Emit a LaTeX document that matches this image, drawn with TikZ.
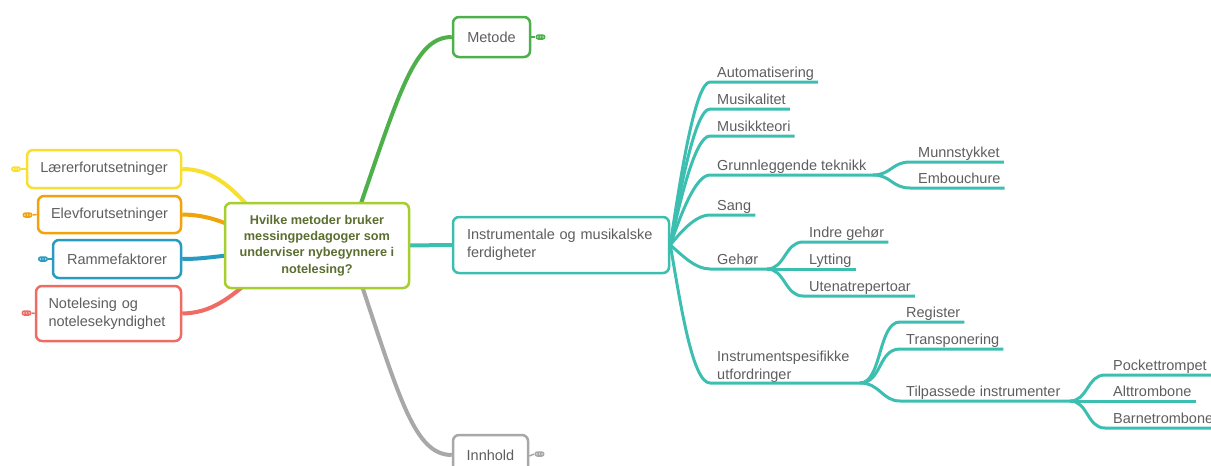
\documentclass[tikz,border=0pt]{standalone}
\usepackage{fontspec}
\setmainfont{Liberation Sans}
\usetikzlibrary{calc,backgrounds}
\definecolor{cyel}{HTML}{F8E031}
\definecolor{cora}{HTML}{F0A30A}
\definecolor{cblu}{HTML}{2A9BC0}
\definecolor{cred}{HTML}{F06B63}
\definecolor{cgrn}{HTML}{4DB04A}
\definecolor{cgry}{HTML}{A8A8A8}
\definecolor{ctea}{HTML}{3CBFB1}
\definecolor{clim}{HTML}{A6CE2E}
\definecolor{colv}{HTML}{5A6E2F}
\definecolor{ctxt}{HTML}{5E5E5E}
\newcommand\lblfont{\fontsize{14.5}{18}\selectfont}
\begin{document}
\begin{tikzpicture}[x=1pt,y=-1pt,
  box/.style={draw=#1, rounded corners=6pt, line width=2.5pt, fill=white, font=\lblfont, text=ctxt, inner sep=0pt},
  lbl/.style={anchor=base west, inner sep=0pt, font=\lblfont, text=ctxt},
  conn/.style={draw=#1, line width=4pt},
  br/.style={draw=ctea, line width=3pt},
  pill/.style={fill=#1, rounded corners=2.7pt, minimum width=10pt, minimum height=5.5pt, inner sep=0pt,
    path picture={\fill[white] (path picture bounding box.center) circle (0.7pt)
      ([xshift=-2.6pt]path picture bounding box.center) circle (0.7pt)
      ([xshift=2.6pt]path picture bounding box.center) circle (0.7pt);}},
  tick/.style={draw=#1, line width=1.5pt}
]
\useasboundingbox (0,0) rectangle (1211,466);
\clip (0,0) rectangle (1211,466);

% root
\node[box=clim, minimum width=184pt, minimum height=85pt, align=center, text=colv,
  font=\fontsize{12.7}{16.3}\selectfont\bfseries] (root) at (317,245.5)
  {Hvilke metoder bruker\\messingpedagoger som\\underviser nybegynnere i\\notelesing?};

% left nodes
\node[box=cyel, minimum width=154pt, minimum height=38pt] (lr) at (104,169) {Lærerforutsetninger};
\node[box=cora, minimum width=143pt, minimum height=37pt] (el) at (109.5,214.5) {Elevforutsetninger};
\node[box=cblu, minimum width=128pt, minimum height=38pt] (ra) at (117,259) {Rammefaktorer};
\node[box=cred, minimum height=55pt, text width=120pt, inner xsep=12.5pt, align=left] (no) at (108.5,313.5) {Notelesing og\\notelesekyndighet};

% right main nodes
\node[box=cgrn, minimum width=77pt, minimum height=40pt] (me) at (491.5,37) {Metode};
\node[box=cgry, minimum width=75pt, minimum height=40pt] (in) at (490.5,455) {Innhold};
\node[box=ctea, minimum height=56pt, text width=188pt, inner xsep=14pt, align=left] (ins) at (561,245) {Instrumentale og musikalske\\ferdigheter};

% pills
\node[pill=cyel] (plr) at (16,169) {};
\node[pill=cora] (pel) at (27.5,215) {};
\node[pill=cblu] (pra) at (43,259) {};
\node[pill=cred] (pno) at (26.5,313) {};
\node[pill=cgrn] (pme) at (540.5,37) {};
\node[pill=cgry] (pin) at (539.5,454) {};

\begin{pgfonlayer}{background}
\draw[tick=cyel] (lr.west) -- (plr.east);
\draw[tick=cora] (el.west) -- (pel.east);
\draw[tick=cblu] (ra.west) -- (pra.east);
\draw[tick=cred] (no.west) -- (pno.east);
\draw[tick=cgrn] (me.east) -- (pme.west);
\draw[tick=cgry] ([yshift=-1pt]in.east) -- (pin.west);

\draw[conn=cyel] (lr.east) .. controls (215,169) and (235,190) .. (262,222);
\draw[conn=cora] (el.east) .. controls (205,215) and (220,220) .. (245,232);
\draw[conn=cblu] (ra.east) .. controls (205,259) and (215,256) .. (245,254);
\draw[conn=cred] (no.east) .. controls (210,313) and (228,300) .. (255,276);
\draw[conn=cgrn] (357,215) .. controls (400,90) and (415,37) .. (me.west);
\draw[conn=cgry] (360,280) .. controls (400,400) and (415,455) .. (in.west);
\draw[conn=ctea] ([xshift=-8pt]root.east) -- ([xshift=4pt]ins.west);
\end{pgfonlayer}

% level-1 branches
\coordinate (r) at (ins.east);
\node[lbl] (a1) at (717,77) {Automatisering};
\node[lbl] (a2) at (717,104) {Musikalitet};
\node[lbl] (a3) at (717,131) {Musikkteori};
\node[lbl] (a4) at (717,170) {Grunnleggende teknikk};
\node[lbl] (a5) at (717,210) {Sang};
\node[lbl] (a6) at (717,264) {Gehør};
\node[anchor=south west, inner sep=0pt, font=\lblfont, text=ctxt, align=left] (a7) at (717,383) {Instrumentspesifikke\\utfordringer};

\draw[br] (r) .. controls (680,180) and (695,82) .. (710,82) -- ($(a1.base east)+(4,5)$);
\draw[br] (r) .. controls (680,191) and (695,109) .. (710,109) -- ($(a2.base east)+(4,5)$);
\draw[br] (r) .. controls (680,201) and (695,136) .. (710,136) -- ($(a3.base east)+(4,5)$);
\coordinate (b4) at (873,175);
\draw[br] (r) .. controls (680,217) and (695,175) .. (710,175) -- (b4);
\draw[br] (r) .. controls (680,233) and (695,215) .. (710,215) -- ($(a5.base east)+(4,5)$);
\coordinate (b6) at (767,269);
\draw[br] (r) .. controls (682,255) and (695,269) .. (710,269) -- (b6);
\coordinate (b7) at (860,383);
\draw[br] (r) .. controls (680,300) and (692,383) .. (710,383) -- (b7);

% level-2 under Grunnleggende
\node[lbl] (m1) at (918,157) {Munnstykket};
\node[lbl] (m2) at (918,183) {Embouchure};
\draw[br] (b4) .. controls (891,175) and (892,162) .. (910,162) -- ($(m1.base east)+(4,5)$);
\draw[br] (b4) .. controls (891,175) and (892,188) .. (910,188) -- ($(m2.base east)+(4,5)$);

% level-2 under Gehør
\node[lbl] (g1) at (809,237) {Indre gehør};
\node[lbl] (g2) at (809,264) {Lytting};
\node[lbl] (g3) at (809,291) {Utenatrepertoar};
\draw[br] (b6) .. controls (785,269) and (785,242) .. (803,242) -- ($(g1.base east)+(4,5)$);
\draw[br] (b6) -- ($(g2.base east)+(4,5)$);
\draw[br] (b6) .. controls (785,269) and (785,296) .. (803,296) -- ($(g3.base east)+(4,5)$);

% level-2 under Instrumentspesifikke
\node[lbl] (i1) at (906,317) {Register};
\node[lbl] (i2) at (906,344) {Transponering};
\node[lbl] (i3) at (906,396) {Tilpassede instrumenter};
\draw[br] (b7) .. controls (882,383) and (878,322) .. (900,322) -- ($(i1.base east)+(4,5)$);
\draw[br] (b7) .. controls (882,383) and (878,349) .. (900,349) -- ($(i2.base east)+(4,5)$);
\coordinate (b9) at (1070,401);
\draw[br] (b7) .. controls (880,383) and (882,401) .. (900,401) -- (b9);

% level-3 under Tilpassede
\node[lbl] (t1) at (1113,370) {Pockettrompet};
\node[lbl] (t2) at (1113,396) {Alttrombone};
\node[lbl] (t3) at (1113,423) {Barnetrombone};
\draw[br] (b9) .. controls (1088,401) and (1087,375) .. (1105,375) -- ($(t1.base east)+(4,5)$);
\draw[br] (b9) -- ($(t2.base east)+(4,5)$);
\draw[br] (b9) .. controls (1088,401) and (1087,428) .. (1105,428) -- ($(t3.base east)+(4,5)$);
\end{tikzpicture}
\end{document}
